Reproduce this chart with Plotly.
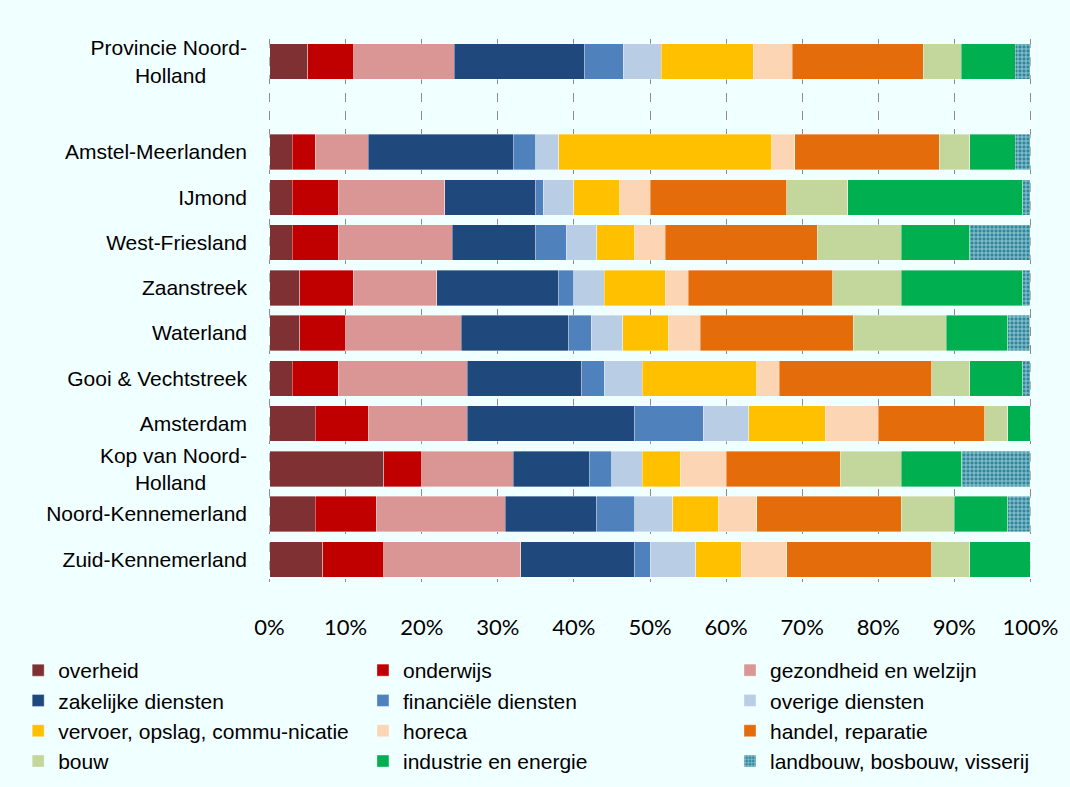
import plotly.graph_objects as go

NB = "\u00a0"

# regio's van boven naar onder; " " is de lege rij onder de provincie
regions = ["Provincie Noord-<br>Holland" + NB * 7, " ", "Amstel-Meerlanden", "IJmond", "West-Friesland",
           "Zaanstreek", "Waterland", "Gooi & Vechtstreek", "Amsterdam",
           "Kop van Noord-<br>Holland" + NB * 7, "Noord-Kennemerland", "Zuid-Kennemerland"]

sectors = ["overheid", "onderwijs", "gezondheid en welzijn", "zakelijke diensten",
           "financiële diensten", "overige diensten", "vervoer, opslag, commu-nicatie",
           "horeca", "handel, reparatie", "bouw", "industrie en energie",
           "landbouw, bosbouw, visserij"]

colors = ["#7F3032", "#C00000", "#D99694", "#1F497D", "#4F81BD", "#B9CDE5",
          "#FFC000", "#FCD5B5", "#E46C0A", "#C3D69B", "#00B050", "#31859C"]

tick_vals = [0, 10, 20, 30, 40, 50, 60, 70, 80, 90, 100]
tick_text = ["0%", "10%", "20%", "30%", "40%", "50%", "60%", "70%", "80%", "90%", "100%"]

# aandeel (%) per sector per regio, zelfde volgorde als sectors
shares = [
    [5.0, 6.1, 13.2, 17.1, 5.1, 5.0, 12.1, 5.1, 17.2, 5.0, 7.1, 2.0],
    [None] * 12,
    [3, 3, 7, 19, 3, 3, 28, 3, 19, 4, 6, 2],
    [3, 6, 14, 12, 1, 4, 6, 4, 18, 8, 23, 1],
    [3, 6, 15, 11, 4, 4, 5, 4, 20, 11, 9, 8],
    [4, 7, 11, 16, 2, 4, 8, 3, 19, 9, 16, 1],
    [4, 6, 15.2, 14.1, 3, 4.1, 6, 4.2, 20.1, 12.2, 8.1, 2.9],
    [3, 6, 17, 15, 3, 5, 15, 3, 20, 5, 7, 1],
    [6, 7, 13, 22, 9, 6, 10, 7, 14, 3, 3, 0],
    [15, 5, 12, 10, 3, 4, 5, 6, 15, 8, 8, 9],
    [6, 8, 17, 12, 5, 5, 6, 5, 19, 7, 7, 3],
    [7, 8, 18, 15, 2, 6, 6, 6, 19, 5, 8, 0],
]

legend_ids = ["legend", "legend2", "legend3"]

fig = go.Figure()
for i, sector in enumerate(sectors):
    vals = [row[i] for row in shares]
    marker = dict(color=colors[i], line=dict(color="rgba(255,255,255,0.6)", width=0.6))
    if sector.startswith("landbouw"):
        marker["pattern"] = dict(shape="+", bgcolor="#31859C", fgcolor="#A8D8E0",
                                 size=4, solidity=0.35, fillmode="replace")
    fig.add_trace(go.Bar(y=regions, x=vals, name=sector, orientation="h",
                         marker=marker, legend=legend_ids[i % 3]))

leg = dict(orientation="v", xanchor="left", yanchor="top", y=-0.1252,
           font=dict(size=21, family="Liberation Sans, Arial, sans-serif"),
           bgcolor="rgba(0,0,0,0)", itemclick=False, itemwidth=30, traceorder="normal")

# figuur iets hoger dan het venster, zodat de legenda de marge niet oprekt
fig.update_layout(
    barmode="stack",
    bargap=0.22,
    width=1070, height=800,
    margin=dict(l=268, r=38, t=39, b=218),
    paper_bgcolor="#F0FFFF",
    plot_bgcolor="#F0FFFF",
    font=dict(family="Liberation Sans, Arial, sans-serif", size=21, color="#000"),
    xaxis=dict(range=[-0.2, 100.2], tickvals=tick_vals, ticktext=tick_text,
               showgrid=True, gridcolor="#8C8C8C", griddash="dash", gridwidth=1,
               zeroline=False, tickfont=dict(size=22, family="Lato, sans-serif"),
               ticklabelstandoff=30, fixedrange=True),
    yaxis=dict(categoryorder="array", categoryarray=regions, autorange="reversed",
               showgrid=False, zeroline=False, ticklabelstandoff=20,
               tickfont=dict(size=21)),
    legend=dict(leg, x=-0.327),
    legend2=dict(leg, x=0.1243),
    legend3=dict(leg, x=0.6047),
    showlegend=True,
)

fig.write_html("out.html", config={"displayModeBar": False},
               post_script="document.body.style.margin='0';"
                           "document.body.style.overflow='hidden';"
                           "document.body.style.background='#F0FFFF';")
